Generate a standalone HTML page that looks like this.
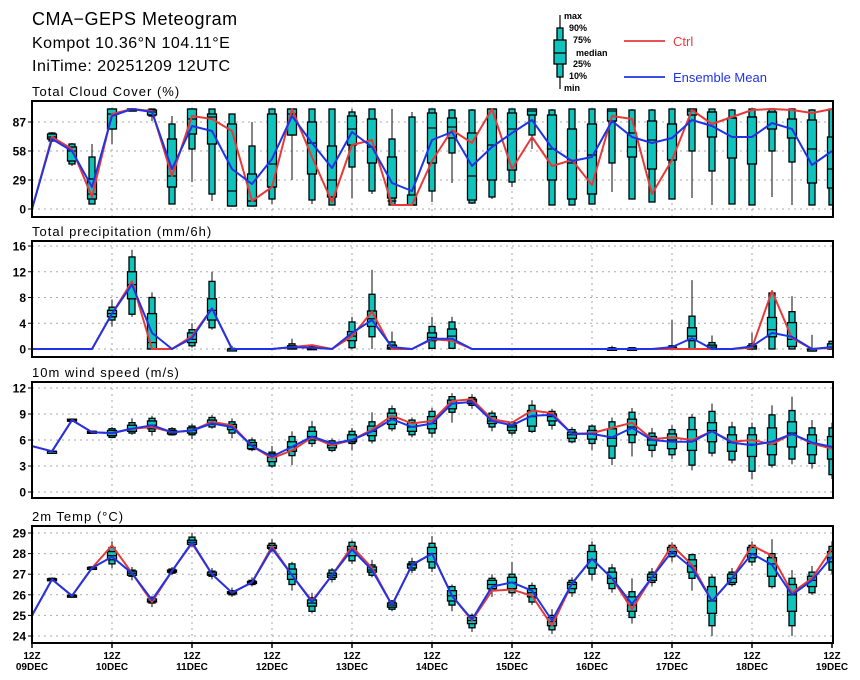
<!DOCTYPE html>
<html><head><meta charset="utf-8"><style>
html,body{margin:0;padding:0;background:#fff;}
svg{display:block;font-family:"Liberation Sans",sans-serif;}
</style></head><body>
<svg id="chart" width="860" height="680" viewBox="0 0 860 680" xmlns="http://www.w3.org/2000/svg">
<text x="32" y="25" font-size="18" fill="#000" letter-spacing="0.5">CMA−GEPS Meteogram</text>
<text x="32" y="48" font-size="16" fill="#000" letter-spacing="0.5">Kompot 10.36°N 104.11°E</text>
<text x="32" y="71" font-size="16" fill="#000" letter-spacing="0.5">IniTime: 20251209 12UTC</text>
<g>
<line x1="560" y1="15" x2="560" y2="89" stroke="#000" stroke-width="1.2"/>
<rect x="557" y="28" width="6" height="49" fill="#10c4be" stroke="#000" stroke-width="1.3"/>
<rect x="554" y="40" width="12" height="24" fill="#10c4be" stroke="#000" stroke-width="1.3"/>
<line x1="554" y1="53" x2="566" y2="53" stroke="#000" stroke-width="1.3"/>
<g font-size="9" font-weight="bold" fill="#000">
<text x="564" y="19">max</text><text x="569" y="31">90%</text><text x="573" y="43">75%</text>
<text x="576" y="56">median</text><text x="573" y="67">25%</text><text x="569" y="79">10%</text><text x="564" y="91">min</text>
</g>
<line x1="624" y1="41" x2="665" y2="41" stroke="#e63a3a" stroke-width="1.8"/>
<text x="673" y="46" font-size="13" fill="#e63a3a">Ctrl</text>
<line x1="624" y1="77" x2="665" y2="77" stroke="#2034e6" stroke-width="1.8"/>
<text x="673" y="82" font-size="13" fill="#2034e6">Ensemble Mean</text>
</g>
</svg>
<script>
// ---------- data (41 steps, 6-hourly from 12Z 09DEC) ----------
var dayLabels = ["09DEC","10DEC","11DEC","12DEC","13DEC","14DEC","15DEC","16DEC","17DEC","18DEC","19DEC"];
var cloudTicks = [0,29,58,87];
var cloudCtrl = [0,72,60,12,95,100,98,33,93,90,78,8,22,100,52,7,64,69,4,4,48,79,66,100,40,72,43,49,24,93,90,15,49,99,85,92,99,100,99,96,100];
var cloudMean = [0,70,58,22,93,100,97,40,83,78,40,25,50,93,66,41,77,62,26,18,69,77,43,62,76,89,61,48,52,88,72,66,71,89,83,72,72,86,80,44,58];
var cloudMin = [0,67,43,5,65,99,88,5,27,8,3,3,5,29,5,4,11,15,4,4,7,26,5,10,22,60,4,4,5,17,10,7,10,11,4,5,4,12,4,4,4];
var cloudP10 = [0,68,45,5,80,99,93,5,60,15,3,3,10,74,9,4,42,18,4,4,18,56,6,12,27,74,4,4,5,46,10,7,10,58,38,5,4,58,47,4,4];
var cloudP25 = [0,70,48,10,80,99,94,22,75,65,3,3,22,74,35,12,64,46,11,4,46,71,9,29,39,94,29,10,15,88,52,40,49,94,72,51,45,80,71,26,21];
var cloudMed = [0,72,58,15,95,100,97,33,90,92,18,8,45,95,66,29,80,62,8,4,81,82,33,64,80,98,60,46,54,98,62,69,85,98,97,91,92,97,99,60,40];
var cloudP75 = [0,75,62,30,100,100,99,70,100,95,85,35,95,100,87,63,93,90,52,14,96,91,76,100,96,100,94,80,85,100,76,88,85,100,97,91,92,97,90,89,72];
var cloudP90 = [0,76,65,52,100,100,100,85,100,100,95,63,100,100,100,100,97,100,70,92,100,99,99,100,100,100,99,100,100,100,99,99,100,100,100,99,100,100,100,99,100];
var cloudMax = [0,77,66,65,100,100,100,93,100,100,95,87,100,100,100,100,100,100,100,97,100,100,100,100,100,100,100,100,100,100,100,100,100,100,100,100,100,100,100,100,100];

var precTicks = [0,4,8,12,16];
var precCtrl = [0,0,0,0,5.5,10.5,0,0,2,6.3,0,0,0,0.3,0.6,0,2,5.8,0,0,1.5,1.3,0,0,0,0,0,0,0,0,0,0,0,0,0,0,0.2,9,1.7,0,0.2];
var precMean = [0,0,0,0,5.5,10,2.5,0,1.7,6.3,0,0,0,0.3,0.2,0,2.5,4.5,0.3,0,1.6,1.6,0,0,0,0,0,0,0,0,0,0,0.3,1.7,0,0,0.4,2.5,1.9,0,0.3];
var precMin = [0,0,0,0,3.5,5,0,0,0.2,3,0,0,0,0,0,0,0,0,0,0,0,0,0,0,0,0,0,0,0,0,0,0,0,0,0,0,0,0,0,0,0];
var precP10 = [0,0,0,0,4.5,5.4,0,0,0.5,3.3,0,0,0,0,0,0,0.2,1.9,0,0,0.1,0.1,0,0,0,0,0,0,0,0,0,0,0,0,0,0,0,0,0,0,0];
var precP25 = [0,0,0,0,5,7.8,0,0,1,4.5,0,0,0,0,0,0,1.3,3.5,0,0,1.3,1.3,0,0,0,0,0,0,0,0,0,0,0,1.3,0,0,0,1.9,0.4,0,0];
var precMed = [0,0,0,0,5.5,10,1,0,1.5,6,0,0,0,0.2,0,0,2,4.7,0.2,0,1.8,2,0,0,0,0,0,0,0,0,0,0,0.1,2,0.3,0,0.3,3,1.5,0,0.3];
var precP75 = [0,0,0,0,6,12,5.5,0,2.5,7.8,0,0,0,0.5,0.2,0,2.7,5.9,0.6,0,2.5,3.1,0,0,0,0,0,0,0,0.1,0.1,0,0.3,3.3,0.6,0,0.5,4.9,4.1,0,0.8];
var precP90 = [0,0,0,0,6.5,14.3,8,0,3,10.5,0.1,0,0,0.8,0.4,0,4.2,8.5,1.1,0,3.5,4.2,0,0,0,0,0,0,0,0.2,0.2,0,0.5,5.1,1,0,0.8,8.7,5.8,0,1.2];
var precMax = [0,0,0,0,7.7,15.4,8.8,0,4,12,0.5,0,0,1.6,0.6,0,5,12.3,2.7,0,5,5,0,0,0,0,0,0,0,0.5,0.2,0,4.5,10.7,2.1,0,2.5,8.7,8.2,2.2,1.2];

var windTicks = [0,3,6,9,12];
var windCtrl = [5.3,4.7,8.3,6.9,6.8,7.3,7.5,6.9,7.1,8.1,7.7,5.3,3.9,4.8,6.3,5.4,6.0,7.2,8.8,7.9,8.2,10.5,10.7,8.4,8.0,9.4,9.1,6.7,6.8,7.4,8.0,6.1,6.3,6.0,7.0,5.8,6.0,5.5,6.7,5.6,5.0];
var windMean = [5.3,4.7,8.3,6.9,6.8,7.3,7.7,6.9,7.1,7.9,7.5,5.3,4.1,5.2,6.4,5.6,6.0,7.0,8.4,7.5,7.9,10.2,10.4,8.2,7.7,8.8,8.9,6.7,6.7,6.3,7.4,6.0,5.8,5.8,7.0,5.7,5.4,5.8,6.7,5.7,5.2];
var windMin = [5.3,4.7,8.1,6.7,6.2,6.6,6.5,6.5,6.1,7.3,6.2,4.7,2.8,3.1,5.2,4.6,4.8,5.6,7.0,6.3,6.3,8.0,9.6,7.0,6.5,6.8,7.2,5.6,4.8,3.1,4.1,4.0,3.8,2.5,4.1,3.3,1.5,2.8,3.2,2.7,1.5];
var windP10 = [5.3,4.7,8.2,6.8,6.3,6.8,7.0,6.6,6.6,7.5,6.8,4.9,3.0,4.2,5.6,4.8,5.6,5.9,7.3,6.6,6.8,9.2,10.0,7.5,6.8,7.0,7.7,5.8,5.6,3.9,5.7,4.8,4.3,3.1,4.5,3.7,2.4,3.1,3.8,3.3,2.0];
var windP25 = [5.3,4.7,8.2,6.8,6.5,7.0,7.3,6.7,6.8,7.8,7.2,5.0,3.5,4.7,6.0,5.1,5.8,6.5,7.8,7.0,7.3,9.6,10.2,7.9,7.1,7.6,8.2,6.2,6.1,5.3,6.6,5.4,5.0,4.8,5.8,4.7,4.1,4.3,5.2,4.3,3.8];
var windMed = [5.3,4.7,8.3,6.9,6.8,7.3,7.7,6.9,7.1,8.0,7.5,5.4,4.0,5.2,6.4,5.4,6.0,7.0,8.5,7.5,7.9,10.2,10.5,8.2,7.5,8.7,8.7,6.6,6.7,6.2,7.5,6.0,6.0,5.9,7.1,5.7,5.5,5.5,6.8,5.6,5.2];
var windP75 = [5.3,4.7,8.4,7.0,7.1,7.7,8.2,7.1,7.4,8.3,7.8,5.7,4.4,5.8,7.0,5.6,6.6,7.6,9.1,8.0,8.7,10.6,10.7,8.7,7.7,9.4,9.0,6.9,7.1,7.3,8.4,6.4,6.7,7.2,8.0,6.6,6.6,7.4,8.1,6.6,6.4];
var windP90 = [5.3,4.7,8.4,7.0,7.3,8.0,8.5,7.3,7.6,8.6,8.1,6.0,4.6,6.4,7.5,5.9,7.0,8.1,9.6,8.3,9.3,11.0,10.9,9.1,8.0,10.0,9.3,7.2,7.6,8.1,9.2,6.8,7.2,8.6,9.3,7.5,7.4,8.9,9.4,7.4,7.4];
var windMax = [5.3,4.7,8.5,7.1,7.5,8.5,8.8,7.5,7.9,8.9,8.5,6.3,5.3,7.0,8.2,6.2,7.4,9.2,10.0,8.6,9.7,11.4,11.3,9.4,8.2,10.6,9.6,7.5,7.8,8.6,9.7,7.4,7.7,9.0,10.2,8.1,8.0,10.0,11.0,8.3,8.0];

var tempTicks = [24,25,26,27,28,29];
var tempCtrl = [25.0,26.75,25.95,27.3,28.4,27.05,25.65,27.15,28.5,27.0,26.1,26.6,28.35,26.95,25.7,26.95,28.35,27.3,25.5,27.45,28.0,25.95,24.75,26.2,26.25,25.95,24.5,26.55,27.75,26.8,25.3,26.85,28.4,27.45,25.7,26.8,28.4,27.9,26.1,26.8,28.25];
var tempMean = [25.0,26.75,25.95,27.3,27.85,27.05,25.75,27.15,28.55,27.0,26.1,26.6,28.25,26.95,25.65,26.95,28.2,27.2,25.5,27.45,28.0,25.95,24.8,26.4,26.6,26.2,24.75,26.55,27.75,26.8,25.55,26.85,28.1,27.3,25.7,26.8,28.0,27.45,26.0,26.7,27.85];
var tempMin = [25.0,26.65,25.85,27.2,27.3,26.7,25.4,26.95,28.3,26.75,25.9,26.4,28.05,26.2,25.1,26.6,27.5,26.85,25.2,27.05,27.1,25.2,24.2,25.9,25.9,25.5,24.1,25.9,26.7,26.1,24.6,26.4,27.6,26.2,24.0,26.4,27.4,26.3,24.0,26.0,27.0];
var tempP10 = [25.0,26.7,25.9,27.25,27.5,26.9,25.6,27.05,28.4,26.9,26.0,26.5,28.2,26.5,25.2,26.75,27.65,26.95,25.3,27.2,27.3,25.5,24.4,26.2,26.1,25.65,24.3,26.1,27.0,26.3,24.9,26.6,27.85,26.8,24.5,26.5,27.6,26.4,24.5,26.1,27.2];
var tempP25 = [25.0,26.72,25.92,27.27,27.7,26.95,25.65,27.1,28.45,26.95,26.05,26.55,28.25,26.75,25.45,26.85,27.9,27.1,25.4,27.3,27.6,25.7,24.6,26.3,26.3,25.9,24.5,26.3,27.3,26.55,25.2,26.7,28.0,27.1,25.1,26.6,27.8,26.9,25.2,26.4,27.6];
var tempMed = [25.0,26.75,25.95,27.3,27.9,27.05,25.7,27.15,28.55,27.0,26.1,26.6,28.3,27.0,25.6,26.95,28.2,27.2,25.5,27.45,28.0,25.95,24.75,26.5,26.6,26.1,24.7,26.5,27.7,26.8,25.5,26.85,28.1,27.4,25.7,26.8,28.0,27.5,26.0,26.7,27.8];
var tempP75 = [25.0,26.78,25.98,27.33,28.1,27.15,25.8,27.2,28.65,27.1,26.15,26.65,28.4,27.25,25.75,27.05,28.35,27.35,25.6,27.5,28.3,26.2,24.9,26.7,26.85,26.3,24.9,26.6,28.1,27.1,25.9,27.0,28.3,27.7,26.4,27.0,28.3,27.8,26.5,26.9,28.1];
var tempP90 = [25.0,26.8,26.0,27.35,28.3,27.2,25.85,27.25,28.8,27.15,26.2,26.7,28.5,27.5,25.85,27.2,28.55,27.45,25.7,27.6,28.5,26.4,25.0,26.8,27.0,26.45,25.0,26.7,28.4,27.3,26.15,27.1,28.4,27.95,26.85,27.1,28.4,28.0,26.8,27.1,28.35];
var tempMax = [25.0,26.85,26.05,27.4,28.6,27.35,25.95,27.35,29.0,27.3,26.35,26.85,28.7,27.6,26.1,27.3,28.65,27.7,25.75,27.8,28.85,26.5,25.1,27.0,27.6,26.6,25.3,26.85,28.6,27.5,26.8,27.3,28.55,28.0,27.0,27.3,28.6,28.7,27.2,27.4,28.6];

// ---------- rendering ----------
var NS = "http://www.w3.org/2000/svg";
var svg = document.getElementById("chart");
var X0 = 32, X1 = 833, STEP = 20;
function xAt(i){ return X0 + i*STEP; }
function mk(tag, attrs, parent){
  var e = document.createElementNS(NS, tag);
  for (var k in attrs) e.setAttribute(k, attrs[k]);
  (parent||svg).appendChild(e); return e;
}
var defs = mk("defs", {});

var panels = [
  {name:"cloud", title:"Total Cloud Cover (%)", top:101, bot:217, v0:0, y0:209, v1:87, y1:122, ticks:cloudTicks,
   ctrl:cloudCtrl, mean:cloudMean, mn:cloudMin, p10:cloudP10, p25:cloudP25, med:cloudMed, p75:cloudP75, p90:cloudP90, mx:cloudMax, boxFrom:1},
  {name:"precip", title:"Total precipitation (mm/6h)", top:241, bot:357, v0:0, y0:349, v1:16, y1:246, ticks:precTicks,
   ctrl:precCtrl, mean:precMean, mn:precMin, p10:precP10, p25:precP25, med:precMed, p75:precP75, p90:precP90, mx:precMax, boxFrom:1, skipZero:true},
  {name:"wind", title:"10m wind speed (m/s)", top:382, bot:498, v0:0, y0:492, v1:12, y1:388, ticks:windTicks,
   ctrl:windCtrl, mean:windMean, mn:windMin, p10:windP10, p25:windP25, med:windMed, p75:windP75, p90:windP90, mx:windMax, boxFrom:1},
  {name:"temp", title:"2m Temp (°C)", top:526, bot:643, v0:24, y0:636, v1:29, y1:533, ticks:tempTicks,
   ctrl:tempCtrl, mean:tempMean, mn:tempMin, p10:tempP10, p25:tempP25, med:tempMed, p75:tempP75, p90:tempP90, mx:tempMax, boxFrom:1}
];

panels.forEach(function(p, pi){
  function yAt(v){ return p.y0 + (v - p.v0) * (p.y1 - p.y0) / (p.v1 - p.v0); }
  var g = mk("g", {});
  
  
  var cp = mk("clipPath", {id:"clip"+pi}, defs);
  mk("rect", {x:X0, y:p.top, width:X1-X0, height:p.bot-p.top}, cp);

  var t = mk("text", {x:X0, y:p.top-5, "font-size":"13", fill:"#000", "letter-spacing":"1"}, g);
  
  
  t.textContent = p.title;

  for (var d=1; d<10; d++){
    var gl = mk("line", {x1:X0+80*d, x2:X0+80*d, y1:p.top, y2:p.bot, stroke:"#aaa", "stroke-width":"1", "stroke-dasharray":"2,4"}, g);
    
    
  }
  p.ticks.forEach(function(tv){
    var yy = yAt(tv);
    var hl = mk("line", {x1:X0, x2:X1, y1:yy, y2:yy, stroke:"#aaa", "stroke-width":"1", "stroke-dasharray":"2,4"}, g);
    
    
    var tk = mk("line", {x1:X0-4, x2:X0, y1:yy, y2:yy, stroke:"#000", "stroke-width":"1"}, g);
    
    
    var lb = mk("text", {x:X0-6, y:yy+4.5, "font-size":"12", "font-weight":"bold", "text-anchor":"end", fill:"#000"}, g);
    
    
    lb.textContent = tv;
  });

  var inner = mk("g", {"clip-path":"url(#clip"+pi+")"}, g);
  for (var i=p.boxFrom; i<p.ctrl.length; i++){
    if (p.skipZero && p.mx[i] <= 0) continue;
    var x = xAt(i);
    var bg = mk("g", {}, inner);
    
    
    mk("line", {x1:x, x2:x, y1:yAt(p.mx[i]), y2:yAt(p.mn[i]), stroke:"#333", "stroke-width":"1.2"}, bg);
    var o1 = yAt(p.p90[i]), o2 = yAt(p.p10[i]);
    mk("rect", {x:x-3, y:Math.min(o1,o2), width:6, height:Math.max(2,Math.abs(o2-o1)), fill:"#10c4be", stroke:"#000", "stroke-width":"1.3"}, bg);
    var i1 = yAt(p.p75[i]), i2 = yAt(p.p25[i]);
    mk("rect", {x:x-4.5, y:Math.min(i1,i2), width:9, height:Math.max(2,Math.abs(i2-i1)), fill:"#10c4be", stroke:"#000", "stroke-width":"1.3"}, bg);
    var ym = yAt(p.med[i]);
    mk("line", {x1:x-4.5, x2:x+4.5, y1:ym, y2:ym, stroke:"#000", "stroke-width":"1.2"}, bg);
  }
  function poly(arr, color, nm){
    var pts = arr.map(function(v,i){ return xAt(i)+","+yAt(v).toFixed(1); }).join(" ");
    var pl = mk("polyline", {points:pts, fill:"none", stroke:color, "stroke-width":"2", "stroke-linejoin":"round"}, inner);
    
    
  }
  poly(p.ctrl, "#e63a3a", p.name + "-ctrl-line");
  poly(p.mean, "#2034e6", p.name + "-mean-line");

  var fr = mk("rect", {x:X0, y:p.top, width:X1-X0, height:p.bot-p.top, fill:"none", stroke:"#000", "stroke-width":"2"}, g);
  
  
});

dayLabels.forEach(function(lbl, d){
  var x = X0 + 80*d;
  var tk = mk("line", {x1:x, x2:x, y1:643, y2:648, stroke:"#000", "stroke-width":"1.5"});
  
  
  var t1 = mk("text", {x:x, y:659, "font-size":"10", "font-weight":"bold", "text-anchor":"middle", fill:"#000"});
  
  
  t1.textContent = "12Z";
  var t2 = mk("text", {x:x, y:670, "font-size":"10", "font-weight":"bold", "text-anchor":"middle", fill:"#000"});
  
  
  t2.textContent = lbl;
});
</script>
</body></html>
